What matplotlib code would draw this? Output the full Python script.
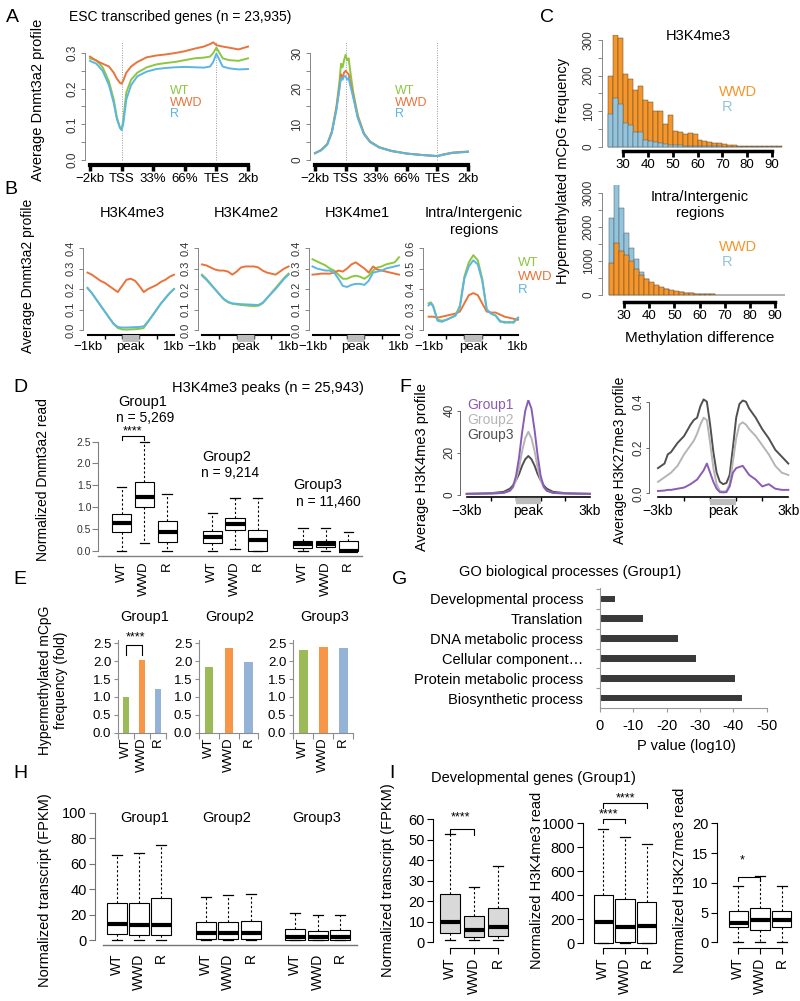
import numpy as np
import matplotlib
matplotlib.use("Agg")
import matplotlib.pyplot as plt

plt.rcParams['font.family'] = ['Liberation Sans', 'DejaVu Sans']

W, H = 800, 1001
fig = plt.figure(figsize=(8, 10.01), dpi=100)

WT_C, WWD_C, R_C = '#8dc63f', '#e8743b', '#5cb6e3'
G1_C, G2_C, G3_C = '#8a5cb5', '#b5b5b5', '#505050'

# ---------------- data ----------------
# A: Dnmt3a2 profile over ESC transcribed genes (x: -2kb, TSS, 33%, 66%, TES, 2kb)
gene_ticks = ['\u22122kb', 'TSS', '33%', '66%', 'TES', '2kb']
a1_x = [0, 0.2, 0.4, 0.6, 0.75, 0.85, 0.95, 1.0, 1.05, 1.15, 1.3, 1.5, 1.8, 2.1,
        2.4, 2.7, 3.0, 3.3, 3.6, 3.8, 3.9, 4.0, 4.1, 4.2, 4.4, 4.7, 5.0]
a1_wt = [0.285, 0.28, 0.26, 0.22, 0.17, 0.12, 0.09, 0.085, 0.11, 0.19, 0.225, 0.245, 0.26, 0.268,
         0.272, 0.275, 0.28, 0.285, 0.287, 0.29, 0.3, 0.315, 0.3, 0.285, 0.28, 0.278, 0.285]
a1_wwd = [0.29, 0.278, 0.27, 0.262, 0.245, 0.228, 0.216, 0.214, 0.222, 0.245, 0.262, 0.275, 0.288, 0.293,
          0.296, 0.3, 0.305, 0.312, 0.318, 0.325, 0.33, 0.322, 0.32, 0.318, 0.315, 0.31, 0.318]
a1_r = [0.278, 0.27, 0.25, 0.21, 0.16, 0.115, 0.09, 0.084, 0.1, 0.17, 0.21, 0.235, 0.248, 0.255,
        0.258, 0.26, 0.261, 0.26, 0.259, 0.262, 0.275, 0.298, 0.28, 0.262, 0.257, 0.254, 0.255]

a2_x = [0, 0.2, 0.4, 0.55, 0.7, 0.8, 0.85, 0.9, 0.95, 1.0, 1.05, 1.1, 1.15, 1.25,
        1.4, 1.6, 1.8, 2.1, 2.5, 3.0, 3.5, 4.0, 4.2, 4.5, 5.0]
a2_wt = [1.9, 2.8, 4.5, 8, 15, 22, 27, 26, 28, 29.5, 28, 28.5, 25, 19,
         12.5, 7.5, 5.2, 3.6, 2.6, 1.8, 1.4, 1.1, 1.6, 2.1, 2.4]
a2_wwd = [1.9, 2.8, 4.4, 7.8, 14.5, 20.5, 24, 23, 24.5, 25, 24.5, 24, 22, 18,
          12, 7.3, 5.1, 3.5, 2.5, 1.8, 1.4, 1.1, 1.5, 2.0, 2.3]
a2_r = [1.9, 2.7, 4.3, 7.6, 14, 20, 23, 22.5, 23.5, 23.5, 22.5, 23, 21, 17.5,
        11.7, 7.2, 5.0, 3.5, 2.5, 1.8, 1.4, 1.1, 1.5, 2.0, 2.3]

# B: profiles around peaks (x: -1kb .. 1kb)
b_x = [-1, -0.9, -0.8, -0.7, -0.6, -0.5, -0.4, -0.3, -0.2, -0.1, 0,
       0.1, 0.2, 0.3, 0.4, 0.5, 0.6, 0.7, 0.8, 0.9, 1]
b1_wt = [0.205, 0.18, 0.15, 0.12, 0.09, 0.06, 0.03, 0.01, 0.003, 0.002, 0.003,
         0.004, 0.006, 0.01, 0.04, 0.07, 0.1, 0.13, 0.155, 0.18, 0.2]
b1_wwd = [0.28, 0.27, 0.255, 0.24, 0.23, 0.215, 0.2, 0.185, 0.215, 0.245, 0.25,
          0.24, 0.215, 0.185, 0.2, 0.21, 0.22, 0.235, 0.245, 0.26, 0.27]
b1_r = [0.205, 0.18, 0.15, 0.12, 0.09, 0.06, 0.032, 0.015, 0.012, 0.012, 0.013,
        0.014, 0.015, 0.018, 0.042, 0.07, 0.1, 0.13, 0.155, 0.18, 0.2]
b2_wt = [0.27, 0.25, 0.225, 0.2, 0.175, 0.15, 0.135, 0.128, 0.125, 0.122, 0.12,
         0.118, 0.117, 0.118, 0.13, 0.155, 0.18, 0.205, 0.23, 0.255, 0.275]
b2_wwd = [0.32, 0.315, 0.305, 0.295, 0.29, 0.29, 0.285, 0.27, 0.285, 0.305, 0.31,
          0.31, 0.31, 0.305, 0.29, 0.28, 0.275, 0.27, 0.285, 0.3, 0.31]
b2_r = [0.265, 0.245, 0.222, 0.198, 0.175, 0.152, 0.138, 0.13, 0.128, 0.126, 0.125,
        0.124, 0.123, 0.122, 0.133, 0.155, 0.178, 0.2, 0.225, 0.25, 0.27]
b3_wt = [0.345, 0.335, 0.325, 0.315, 0.3, 0.29, 0.27, 0.25, 0.25, 0.26, 0.265,
         0.26, 0.25, 0.265, 0.29, 0.305, 0.31, 0.32, 0.325, 0.33, 0.355]
b3_wwd = [0.27, 0.272, 0.275, 0.275, 0.275, 0.28, 0.29, 0.285, 0.3, 0.32, 0.33,
          0.315, 0.3, 0.28, 0.31, 0.295, 0.29, 0.285, 0.28, 0.275, 0.27]
b3_r = [0.31, 0.3, 0.295, 0.29, 0.29, 0.28, 0.25, 0.215, 0.21, 0.22, 0.225,
        0.225, 0.22, 0.24, 0.28, 0.285, 0.29, 0.3, 0.305, 0.31, 0.315]
b4_x = [-1, -0.95, -0.9, -0.8, -0.7, -0.6, -0.5, -0.4, -0.3, -0.2, -0.1, 0,
        0.1, 0.2, 0.3, 0.4, 0.5, 0.6, 0.7, 0.8, 0.9, 1]
b4_wt = [0.33, 0.335, 0.32, 0.25, 0.245, 0.25, 0.26, 0.27, 0.32, 0.46, 0.53, 0.565,
         0.54, 0.45, 0.3, 0.28, 0.27, 0.245, 0.235, 0.24, 0.235, 0.26]
b4_wwd = [0.265, 0.265, 0.265, 0.26, 0.265, 0.27, 0.275, 0.28, 0.29, 0.33, 0.37, 0.38,
          0.37, 0.33, 0.29, 0.285, 0.285, 0.275, 0.265, 0.26, 0.255, 0.25]
b4_r = [0.32, 0.33, 0.315, 0.245, 0.24, 0.25, 0.26, 0.27, 0.31, 0.45, 0.51, 0.54,
        0.52, 0.44, 0.3, 0.28, 0.27, 0.24, 0.24, 0.235, 0.24, 0.26]

# C: histograms of methylation difference (bins of width 2 from 24)
bin_starts = np.arange(24, 94, 2)
c1_wwd = [199, 314, 307, 203, 190, 160, 170, 130, 125, 100, 100, 65, 90, 45, 40, 35, 38, 35,
          20, 15, 12, 10, 10, 8, 5, 4, 3, 2, 2, 1, 1, 1, 1, 1, 1]
c1_r = [91, 138, 119, 66, 61, 42, 40, 19, 16, 14, 10, 8, 6, 5, 4, 3, 3, 2,
        2, 1, 1, 1, 1, 0, 0, 0, 0, 0, 0, 0, 0, 0, 0, 0, 0]
c2_wwd = [940, 1520, 1310, 1180, 990, 770, 600, 470, 370, 290, 230, 180, 140, 110, 85, 65, 50, 40,
          30, 24, 18, 14, 11, 8, 6, 5, 4, 3, 2, 2, 1, 1, 1, 1, 1]
c2_r = [2260, 3420, 2560, 1820, 1380, 1050, 670, 460, 360, 280, 220, 170, 130, 100, 80, 60, 45, 35,
        28, 22, 16, 12, 10, 7, 5, 4, 3, 2, 2, 1, 1, 1, 0, 0, 0]

# D: normalized Dnmt3a2 read at H3K4me3 peaks (box stats)
genotypes = ['WT', 'WWD', 'R']
d_pos = [1, 2, 3, 5, 6, 7, 9, 10, 11]
d_lo = [0.0, 0.18, 0.0, 0.0, 0.03, 0.0, 0.0, 0.0, 0.0]
d_q1 = [0.44, 1.01, 0.21, 0.18, 0.47, 0.0, 0.07, 0.08, 0.0]
d_med = [0.64, 1.24, 0.44, 0.32, 0.61, 0.24, 0.15, 0.15, 0.0]
d_q3 = [0.84, 1.58, 0.67, 0.45, 0.76, 0.47, 0.23, 0.23, 0.23]
d_hi = [1.45, 2.5, 1.31, 0.86, 1.2, 1.2, 0.51, 0.51, 0.42]

# E: hypermethylated mCpG frequency (fold)
e_groups = ['Group1', 'Group2', 'Group3']
e_vals = [[1.0, 2.03, 1.22], [1.85, 2.38, 1.98], [2.3, 2.4, 2.38]]
E_COLS = ['#9bbb59', '#f79646', '#95b3d7']

# F: H3K4me3 / H3K27me3 profiles by group (x: -3kb .. 3kb)
f1_x = [-1, -0.8, -0.6, -0.4, -0.3, -0.25, -0.2, -0.15, -0.1, -0.05, 0,
        0.05, 0.1, 0.15, 0.2, 0.25, 0.3, 0.4, 0.6, 0.8, 1]
f1_g1 = [0.5, 0.6, 0.7, 1.0, 2.0, 4, 9, 18, 30, 40, 45, 41, 31, 19, 9, 4, 2, 1.0, 0.7, 0.6, 0.5]
f1_g2 = [0.5, 0.6, 0.7, 1.0, 2.0, 3.5, 7, 13, 21, 27, 30, 27, 21, 13, 7, 3.5, 2, 1.0, 0.7, 0.6, 0.5]
f1_g3 = [0.6, 0.7, 0.9, 1.5, 3.0, 4.5, 7, 10, 14, 17, 18.5, 17, 14, 10, 7, 4.5, 3, 1.5, 0.9, 0.7, 0.6]
f2_x = [-1, -0.9, -0.85, -0.8, -0.7, -0.6, -0.5, -0.45, -0.4, -0.35, -0.3, -0.25, -0.2, -0.15,
        -0.1, -0.05, 0, 0.05, 0.1, 0.15, 0.2, 0.25, 0.3, 0.35, 0.4, 0.5, 0.6, 0.7, 0.8, 0.9, 1]
f2_g3 = [0.11, 0.13, 0.17, 0.18, 0.22, 0.25, 0.3, 0.32, 0.33, 0.38, 0.41, 0.40, 0.3, 0.18,
         0.09, 0.05, 0.04, 0.045, 0.08, 0.2, 0.33, 0.39, 0.405, 0.4, 0.37, 0.33, 0.28, 0.24, 0.19, 0.16, 0.13]
f2_g2 = [0.05, 0.07, 0.08, 0.09, 0.12, 0.17, 0.21, 0.23, 0.26, 0.3, 0.33, 0.32, 0.22, 0.11,
         0.04, 0.01, 0.008, 0.01, 0.04, 0.14, 0.24, 0.3, 0.31, 0.3, 0.28, 0.25, 0.21, 0.17, 0.12, 0.09, 0.08]
f2_g1 = [0.01, 0.012, 0.015, 0.015, 0.02, 0.025, 0.04, 0.05, 0.06, 0.08, 0.1, 0.13, 0.09, 0.05,
         0.02, 0.005, 0.004, 0.005, 0.03, 0.09, 0.11, 0.115, 0.12, 0.1, 0.08, 0.06, 0.03, 0.04, 0.02, 0.015, 0.015]

# G: GO biological processes
go_terms = ['Developmental process', 'Translation', 'DNA metabolic process',
            'Cellular component\u2026', 'Protein metabolic process', 'Biosynthetic process']
go_logp = [-4.5, -13, -23.5, -28.8, -40.5, -42.5]

# H: transcript level by group (box stats)
h_pos = [1, 2, 3, 5, 6, 7, 9, 10, 11]
h_lo = [0, 0, 0, 0, 0, 0, 0, 0, 0]
h_q1 = [4.7, 3.9, 3.9, 0.8, 0.8, 0.8, 0.3, 0.3, 0.3]
h_med = [12.3, 11.8, 11.8, 5.2, 5.2, 5.2, 2.1, 2.1, 2.1]
h_q3 = [29.3, 29.3, 32.7, 14.4, 14.4, 15, 8.4, 7.3, 7.6]
h_hi = [66.8, 68, 75, 34, 35, 36, 21, 19.6, 19.6]

# I: developmental genes (Group1)
i_pos = [1, 2, 3]
i1_stats = dict(lo=[1, 1, 1], q1=[4.4, 2.8, 3.1], med=[10, 6, 7.6], q3=[23.6, 12.8, 16.9], hi=[52.8, 26.8, 37.2])
i2_stats = dict(lo=[0, 0, 0], q1=[2, 8, 2], med=[180, 139, 144], q3=[403, 367, 344], hi=[950, 883, 825])
i3_stats = dict(lo=[0, 0, 0], q1=[2.5, 2.1, 2.5], med=[3.2, 3.75, 3.75], q3=[5.3, 5.8, 5.3], hi=[9.4, 11.2, 9.4])


# ---------------- helpers ----------------
def px_axes(l, t, r, b):
    ax = fig.add_axes([l / W, 1 - b / H, (r - l) / W, (b - t) / H])
    ax.patch.set_visible(False)
    for s in ax.spines.values():
        s.set_visible(False)
    return ax


def span(e0, e1, p0, v0, p1, v1):
    k = (v1 - v0) / (p1 - p0)
    return (v0 + (e0 - p0) * k, v0 + (e1 - p0) * k)


def ftext(x, y, s, **kw):
    kw.setdefault('ha', 'center')
    kw.setdefault('va', 'center')
    kw.setdefault('fontsize', 10)
    fig.text(x / W, 1 - y / H, s, **kw)


def yaxis_r(ax, ticks, labels, minor=None, size=8.5, lo=None, hi=None, color='0.45', tl=3, pad=2):
    ax.spines['left'].set_visible(True)
    ax.spines['left'].set_color(color)
    ax.spines['left'].set_linewidth(0.6)
    ax.spines['left'].set_bounds(lo if lo is not None else ticks[0], hi if hi is not None else ticks[-1])
    ax.set_yticks(ticks, labels)
    if minor is not None:
        ax.set_yticks(minor, minor=True)
    ax.tick_params(axis='y', which='both', length=tl, width=0.6, color=color, labelsize=size,
                   labelcolor='0.2', pad=pad, labelrotation=90)
    for t in ax.get_yticklabels():
        t.set_va('center')


def boxes(ax, pos, lo, q1, med, q3, hi, width, face='white'):
    stats = [dict(whislo=a, q1=b, med=c, q3=d, whishi=e, fliers=[])
             for a, b, c, d, e in zip(lo, q1, med, q3, hi)]
    ax.bxp(stats, positions=pos, widths=width, patch_artist=True, showfliers=False,
           boxprops=dict(facecolor=face, edgecolor='k', lw=0.8),
           medianprops=dict(color='k', lw=3, solid_capstyle='butt'),
           whiskerprops=dict(color='k', lw=0.8, ls=(0, (2, 2))),
           capprops=dict(color='k', lw=0.9), manage_ticks=False)


def peak_bar(ax, lo, hi, off, lw=5):
    ax.plot([lo, hi], [off, off], transform=ax.get_xaxis_transform(), color='#bdbdbd',
            lw=lw, solid_capstyle='butt', clip_on=False, zorder=3)


# ---------------- panel letters & titles ----------------
for letter, x, y in [('A', 12, 17), ('B', 11, 190), ('C', 547, 17), ('D', 20, 388), ('E', 20, 580),
                     ('F', 405, 388), ('G', 400, 580), ('H', 20, 773), ('I', 392, 773)]:
    ftext(x, y, letter, fontsize=14)

# ---------------- A ----------------
ftext(180, 17, 'ESC transcribed genes (n = 23,935)', fontsize=10)
ftext(38, 100, 'Average Dnmt3a2 profile', rotation=90, fontsize=10.5)
for l, r, xp0, xp1, yp_top, ytop, xs, ys, ticks, legx in [
        (85, 252, 90, 248, 53, 0.3, a1_x, (a1_wt, a1_wwd, a1_r), [0, 0.1, 0.2, 0.3], 170),
        (310, 472, 315, 468, 53, 30, a2_x, (a2_wt, a2_wwd, a2_r), [0, 10, 20, 30], 395)]:
    ax = px_axes(l, 38, r, 165)
    ax.set_xlim(span(l, r, xp0, 0, xp1, 5))
    ax.set_ylim(span(165, 38, 160, 0, yp_top, ytop))
    for xv in (1, 4):
        ax.plot([xv, xv], [0, ytop * 1.1], color='0.6', lw=0.7, ls=(0, (1, 1.5)))
    for yv, c in zip(ys, (WT_C, WWD_C, R_C)):
        ax.plot(xs, yv, color=c, lw=1.4)
    ax.spines['bottom'].set_visible(True)
    ax.spines['bottom'].set_bounds(0, 5)
    ax.spines['bottom'].set_linewidth(3)
    ax.set_xticks(range(6), gene_ticks)
    ax.tick_params(axis='x', length=4, width=2.5, labelsize=9.5, pad=2)
    labs = ['%.1f' % t for t in ticks] if ytop < 1 else ['%d' % t for t in ticks]
    minor = [t + (ticks[1] - ticks[0]) / 2 for t in ticks[:-1]]
    yaxis_r(ax, ticks, labs, minor=minor, size=8.5)
    for i, (name, c) in enumerate(zip(genotypes, (WT_C, WWD_C, R_C))):
        ftext(legx, 91 + 11.5 * i, name, color=c, ha='left', fontsize=9)

# ---------------- B ----------------
ftext(28, 276, 'Average Dnmt3a2 profile', rotation=90, fontsize=10)
b_panels = [
    (83, 87.5, 174, 0.0, [0, 0.1, 0.2, 0.3, 0.4], (b1_wt, b1_wwd, b1_r), b_x, 'H3K4me3'),
    (197.5, 202, 288.6, 0.0, [0, 0.1, 0.2, 0.3, 0.4], (b2_wt, b2_wwd, b2_r), b_x, 'H3K4me2'),
    (309, 312.5, 399, 0.0, [0, 0.1, 0.2, 0.3, 0.4], (b3_wt, b3_wwd, b3_r), b_x, 'H3K4me1'),
    (423, 428.6, 518, 0.2, [0.2, 0.3, 0.4, 0.5, 0.6], (b4_wt, b4_wwd, b4_r), b4_x, 'Intra/Intergenic\nregions'),
]
for l, xp0, xp1, ybase, ticks, ys, xs, title in b_panels:
    r = xp1 + 3
    ax = px_axes(l, 240, r, 335)
    ax.set_xlim(span(l, r, xp0, -1, xp1, 1))
    ax.set_ylim(span(335, 240, 330, ybase, 248, ybase + 0.4))
    for yv, c in zip(ys, (WT_C, WWD_C, R_C)):
        ax.plot(xs, yv, color=c, lw=1.4)
    ax.spines['bottom'].set_visible(True)
    ax.spines['bottom'].set_bounds(-1, 1)
    ax.spines['bottom'].set_linewidth(1.5)
    ax.set_xticks([-1, 0, 1], ['\u22121kb', 'peak', '1kb'])
    ax.set_xticks([-1, -0.6, -0.2, 0.2, 0.6, 1], minor=True)
    ax.tick_params(axis='x', which='major', length=0, labelsize=9.5, pad=4)
    ax.tick_params(axis='x', which='minor', length=3, width=1)
    peak_bar(ax, -0.2, 0.2, -0.03)
    yaxis_r(ax, ticks, ['%.1f' % t for t in ticks], size=8)
    if '\n' in title:
        ftext((l + r) / 2 + 2, 213, 'Intra/Intergenic', fontsize=10.5)
        ftext((l + r) / 2 + 2, 230, 'regions', fontsize=10.5)
        for i, (name, c) in enumerate(zip(genotypes, (WT_C, WWD_C, R_C))):
            ftext(518, 263 + 13.5 * i, name, color=c, ha='left', fontsize=9.5)
    else:
        ftext((l + r) / 2 + 2, 213, title, fontsize=10.5)

# ---------------- C ----------------
ftext(563, 171, 'Hypermethylated mCpG frequency', rotation=90, fontsize=10.5)
ftext(700, 338, 'Methylation difference', fontsize=11)
c_panels = [
    (35, 150.7, 623, 772, 146.7, 40, 300, c1_wwd, c1_r, True, [0, 100, 200, 300], 50),
    (185, 301.7, 624, 775, 295, 193.3, 3000, c2_wwd, c2_r, False, [0, 1000, 2000, 3000], 500),
]
for t, b, x30, x90, y0p, ytp, ytv, wwd, rr, blue_front, ticks, mstep in c_panels:
    ax = px_axes(601.7, t, 785, b)
    ax.set_xlim(span(601.7, 785, x30, 30, x90, 90))
    ax.set_ylim(span(b, t, y0p, 0, ytp, ytv))
    zo = (2, 3) if blue_front else (3, 2)
    ax.bar(bin_starts, wwd, width=2, align='edge', color='#f5962a', edgecolor='#5a4630', lw=0.35, zorder=zo[0])
    ax.bar(bin_starts, rr, width=2, align='edge', color='#93c4dc', edgecolor='#4a5a66', lw=0.35, zorder=zo[1])
    ax.spines['bottom'].set_visible(True)
    ax.spines['bottom'].set_bounds(30, 90)
    ax.spines['bottom'].set_linewidth(2.5)
    ax.set_xticks(range(30, 100, 10))
    ax.tick_params(axis='x', length=4, width=2, labelsize=9.5, pad=2)
    yaxis_r(ax, ticks, [str(v) for v in ticks], minor=list(range(mstep, ticks[-1], mstep * 2)), size=8.5)
ftext(698, 36, 'H3K4me3', fontsize=10.5)
ftext(719, 92, 'WWD', color='#f5962a', ha='left', fontsize=10.5)
ftext(722, 107, 'R', color='#93c4dc', ha='left', fontsize=10.5)
ftext(700, 197, 'Intra/Intergenic', fontsize=10.5)
ftext(700, 213, 'regions', fontsize=10.5)
ftext(719, 247, 'WWD', color='#f5962a', ha='left', fontsize=10.5)
ftext(722, 262, 'R', color='#93c4dc', ha='left', fontsize=10.5)

# ---------------- D ----------------
ftext(268, 388, 'H3K4me3 peaks (n = 25,943)', fontsize=10.5)
ftext(43, 480, 'Normalized Dnmt3a2 read', rotation=90, fontsize=10)
ax = px_axes(98.3, 436, 362, 556)
ax.set_xlim(span(98.3, 362, 121.7, 1, 348.3, 11))
ax.set_ylim(span(556, 436, 550.7, 0, 441.7, 2.5))
boxes(ax, d_pos, d_lo, d_q1, d_med, d_q3, d_hi, 0.84)
ax.spines['left'].set_visible(True)
ax.spines['left'].set_color('0.5')
ax.spines['left'].set_linewidth(0.8)
ax.spines['left'].set_bounds(0, 2.5)
ax.spines['bottom'].set_visible(True)
ax.spines['bottom'].set_color('0.5')
ax.spines['bottom'].set_linewidth(1)
ax.set_yticks(np.arange(0, 2.6, 0.5), ['0.0', '0.5', '1.0', '1.5', '2.0', '2.5'])
ax.tick_params(axis='y', length=4, width=0.8, color='0.5', labelsize=7.5, pad=1, labelcolor='0.2')
ax.set_xticks(d_pos, genotypes * 3, rotation=90)
ax.tick_params(axis='x', length=0, labelsize=9.5, pad=4)
ax.plot([1, 1, 2, 2], [2.55, 2.62, 2.62, 2.55], color='k', lw=0.8, clip_on=False)
ftext(132, 431, '****', fontsize=9)
ftext(143, 402, 'Group1', fontsize=10.5)
ftext(145, 418, 'n = 5,269', fontsize=10)
ftext(227, 457, 'Group2', fontsize=10.5)
ftext(230, 473, 'n = 9,214', fontsize=10)
ftext(318, 485, 'Group3', fontsize=10.5)
ftext(328, 502, 'n = 11,460', fontsize=10)

# ---------------- E ----------------
ftext(53, 680, 'Hypermethylated mCpG\nfrequency (fold)', rotation=90, fontsize=10, linespacing=1.1)
e_axes = [(118.3, 166, 0.38, 145), (199.3, 258.3, 0.43, 230), (293.3, 353.3, 0.45, 325)]
for (l, r, bw, tx), vals, gname in zip(e_axes, e_vals, e_groups):
    ax = px_axes(l, 640, r, 733)
    ax.set_xlim(-0.5, 2.5)
    ax.set_ylim(span(733, 640, 732.7, 0, 643.3, 2.5))
    ax.bar(range(3), vals, width=bw, color=E_COLS)
    for s in ('left', 'bottom'):
        ax.spines[s].set_visible(True)
        ax.spines[s].set_color('0.55')
        ax.spines[s].set_linewidth(0.8)
    ax.set_yticks(np.arange(0, 2.6, 0.5), ['0.0', '0.5', '1.0', '1.5', '2.0', '2.5'])
    ax.tick_params(axis='y', length=3, width=0.8, color='0.55', labelsize=9.5, pad=2)
    ax.set_xticks(range(3), genotypes, rotation=90)
    ax.set_xticks([-0.5, 0.5, 1.5, 2.5], minor=True)
    ax.tick_params(axis='x', which='major', length=0, labelsize=9.5, pad=3)
    ax.tick_params(axis='x', which='minor', length=4, width=0.8, color='0.55')
    ftext(tx, 617, gname, fontsize=10.5)
    if gname == 'Group1':
        ax.plot([0, 0, 1, 1], [2.17, 2.45, 2.45, 2.17], color='k', lw=0.8, clip_on=False)
        ftext(135, 637, '****', fontsize=9)

# ---------------- F ----------------
ftext(422, 467, 'Average H3K4me3 profile', rotation=90, fontsize=10.5)
ftext(620, 460, 'Average H3K27me3 profile', rotation=90, fontsize=10)
f_panels = [
    (460, 595, 400, 466.7, 590, 495, 410.7, 40, [0, 20, 40], ['0', '20', '40'], f1_x, (f1_g1, f1_g2, f1_g3)),
    (649, 793, 395, 658, 788.3, 493.3, 401.7, 0.4, [0, 0.2, 0.4], ['0.0', '0.2', '0.4'], f2_x, (f2_g1, f2_g2, f2_g3)),
]
for l, r, t, xp0, xp1, y0p, ytp, ytv, ticks, labs, xs, ys in f_panels:
    ax = px_axes(l, t, r, 497)
    ax.set_xlim(span(l, r, xp0, -1, xp1, 1))
    ax.set_ylim(span(497, t, y0p, 0, ytp, ytv))
    for yv, c in zip(ys[::-1], (G3_C, G2_C, G1_C)):
        ax.plot(xs, yv, color=c, lw=1.4)
    ax.spines['bottom'].set_visible(True)
    ax.spines['bottom'].set_bounds(-1, 1)
    ax.spines['bottom'].set_linewidth(1.2)
    ax.set_xticks([-1, 0, 1], ['\u22123kb', 'peak', '3kb'])
    ax.set_xticks([-1, -0.6, -0.2, 0.2, 0.6, 1], minor=True)
    ax.tick_params(axis='x', which='major', length=0, labelsize=10, pad=5)
    ax.tick_params(axis='x', which='minor', length=3, width=1)
    peak_bar(ax, -0.2, 0.2, -0.045, lw=4.5)
    yaxis_r(ax, ticks, labs, size=8.5, color='0.3', tl=2, pad=1)
for i, (name, c) in enumerate(zip(e_groups, (G1_C, G2_C, G3_C))):
    ftext(467, 405 + 15 * i, name, color=c, ha='left', fontsize=10)

# ---------------- G ----------------
ftext(570, 572, 'GO biological processes (Group1)', fontsize=10.5)
ax = px_axes(600, 588, 770, 708.3)
ax.set_xlim(span(600, 770, 600, 0, 766.7, -50))
ax.set_ylim(span(708.3, 588, 598.7, 0, 698.3, 5))
ax.barh(range(len(go_terms)), go_logp, height=0.32, color='#3a3a3a')
for s in ('left', 'bottom'):
    ax.spines[s].set_visible(True)
    ax.spines[s].set_color('0.6')
    ax.spines[s].set_linewidth(0.8)
ax.spines['bottom'].set_bounds(0, -50)
ax.set_yticks(range(len(go_terms)), go_terms)
ax.set_yticks(np.arange(-0.5, 5, 1), minor=True)
ax.tick_params(axis='y', which='major', length=0, labelsize=10.5, pad=12)
ax.tick_params(axis='y', which='minor', length=3, width=0.8, color='0.6')
ax.set_xticks(range(0, -60, -10), ['0', '-10', '-20', '-30', '-40', '-50'])
ax.tick_params(axis='x', length=3, width=0.8, color='0.6', labelsize=10.5, pad=5)
ftext(686, 746, 'P value (log10)', fontsize=10.5)

# ---------------- H ----------------
ftext(45, 890, 'Normalized transcript (FPKM)', rotation=90, fontsize=10.5)
ax = px_axes(95, 805, 360, 945)
ax.set_xlim(span(95, 360, 116.7, 1, 340, 11))
ax.set_ylim(span(945, 805, 940, 0, 812.7, 100))
boxes(ax, h_pos, h_lo, h_q1, h_med, h_q3, h_hi, 0.9)
ax.spines['left'].set_visible(True)
ax.spines['left'].set_color('0.45')
ax.spines['left'].set_linewidth(0.8)
ax.spines['left'].set_bounds(0, 100)
ax.spines['bottom'].set_visible(True)
ax.spines['bottom'].set_color('0.45')
ax.spines['bottom'].set_linewidth(1)
ax.spines['bottom'].set_bounds(0.39, 11.75)
ax.set_yticks(range(0, 101, 20))
ax.tick_params(axis='y', length=4, width=0.8, color='0.45', labelsize=10.5, pad=2)
ax.set_xticks(h_pos, genotypes * 3, rotation=90)
ax.tick_params(axis='x', length=0, labelsize=10, pad=6)
for name, x in zip(e_groups, (145, 227, 317)):
    ftext(x, 818, name, fontsize=10.5)

# ---------------- I ----------------
ftext(533, 778, 'Developmental genes (Group1)', fontsize=10.5)
i_panels = [
    (433.3, 512, 450, 498.3, 942.3, 819.3, 60, range(0, 61, 10), i1_stats, '#d9d9d9', 0.83,
     'Normalized transcript (FPKM)', 388),
    (583.3, 665, 603.3, 646.7, 943.3, 823.3, 1000, range(0, 1001, 200), i2_stats, 'white', 0.9,
     'Normalized H3K4me3 read', 537),
    (716.7, 795, 738.3, 781.7, 942.3, 823.3, 20, range(0, 21, 5), i3_stats, 'white', 0.9,
     'Normalized H3K27me3 read', 680),
]
i_axes = []
for l, r, xp1, xp3, y0p, ytp, ytv, ticks, st, face, bw, ylab, ylx in i_panels:
    ax = px_axes(l, 790, r, 948)
    ax.set_xlim(span(l, r, xp1, 1, xp3, 3))
    ax.set_ylim(span(948, 790, y0p, 0, ytp, ytv))
    boxes(ax, i_pos, st['lo'], st['q1'], st['med'], st['q3'], st['hi'], bw, face=face)
    ax.spines['left'].set_visible(True)
    ax.spines['left'].set_linewidth(0.8)
    ax.spines['left'].set_bounds(0, ytv)
    ax.spines['bottom'].set_visible(True)
    ax.spines['bottom'].set_linewidth(0.8)
    ax.spines['bottom'].set_bounds(1, 3)
    ax.set_yticks(list(ticks))
    ax.tick_params(axis='y', length=4, width=0.8, labelsize=10.5, pad=2)
    ax.set_xticks(i_pos, genotypes, rotation=90)
    ax.tick_params(axis='x', length=4, width=0.8, labelsize=10, pad=3)
    ftext(ylx, 880, ylab, rotation=90, fontsize=10.5)
    i_axes.append(ax)

# significance brackets in I
ax = i_axes[0]
ax.plot([1, 1, 2, 2], [52.8, 55.5, 55.5, 52.5], color='k', lw=0.8, clip_on=False)
ftext(460, 817, '****', fontsize=9)
ax = i_axes[1]
ax.plot([1, 1, 2, 2], [1000, 1040, 1040, 1000], color='k', lw=0.8, clip_on=False)
ax.plot([1, 1, 3, 3], [1130, 1170, 1170, 1130], color='k', lw=0.8, clip_on=False)
ftext(608, 814, '****', fontsize=9)
ftext(625, 798, '****', fontsize=9)
ax = i_axes[2]
ax.plot([1, 1, 2, 2], [10.3, 11.0, 11.0, 10.3], color='k', lw=0.8, clip_on=False)
ftext(742, 860, '*', fontsize=9)

fig.savefig('out.png', dpi=100)
